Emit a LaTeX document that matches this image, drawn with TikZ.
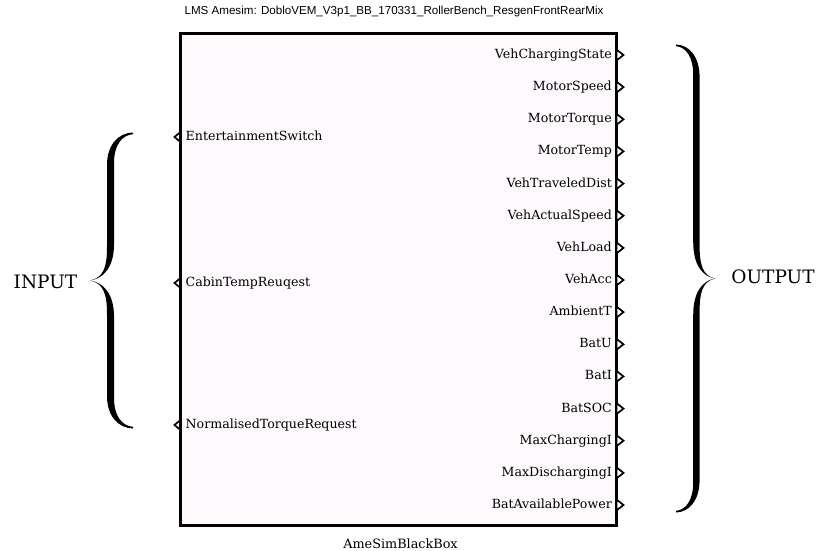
\documentclass[tikz,border=0pt]{standalone}
\usepackage{fontspec}
\setmainfont{DejaVu Serif}
\newfontfamily\lmsfont{Liberation Sans}
\usetikzlibrary{positioning}
\definecolor{bbfill}{HTML}{FDF9FC}
\definecolor{bbline}{HTML}{000000}
\tikzset{
  blk/.style={draw=bbline, line width=2.4pt, fill=bbfill, inner sep=0pt,
    minimum width=436pt, minimum height=492pt},
  outlbl/.style={anchor=east, inner sep=0pt, text height=9.5pt, text depth=2.6pt,
    font=\fontsize{12.6}{14}\selectfont},
  inlbl/.style={anchor=west, inner sep=0pt, text height=9.5pt, text depth=2.6pt,
    font=\fontsize{12.6}{14}\selectfont},
  oport/.style={draw=bbline, line width=1.7pt, fill=white, line join=miter},
  iport/.style={draw=bbline, line width=1.7pt, line join=miter},
  grplbl/.style={font=\fontsize{18.5}{20}\selectfont, inner sep=0pt},
}
% filled curly brace, tip at the origin, opening to the right
\newcommand{\grpbrace}[1]{%
  \fill (0,0) .. controls (14,3) and (17,14) .. (17,34) -- (17,{#1-32})
    .. controls (17,{#1-12}) and (28,{#1}) .. (43,{#1+0.5})
    -- (43,{#1-1.2}) .. controls (32,{#1-2}) and (24,{#1-12}) .. (24,{#1-30})
    -- (24,36) .. controls (24,14) and (14,2) .. (0,0) -- cycle;
  \fill (0,0) .. controls (14,-3) and (17,-14) .. (17,-34) -- (17,{-#1+32})
    .. controls (17,{-#1+12}) and (28,{-#1}) .. (43,{-#1-0.5})
    -- (43,{-#1+1.2}) .. controls (32,{-#1+2}) and (24,{-#1+12}) .. (24,{-#1+30})
    -- (24,-36) .. controls (24,-14) and (14,-2) .. (0,0) -- cycle;}

\begin{document}
\begin{tikzpicture}[x=1pt, y=-1pt]
  \useasboundingbox[fill=white] (0,0) rectangle (816,551);

  % the block
  \node[blk] (bb) at (398.5,279.5) {};
  \node[font=\lmsfont\fontsize{11.6}{13}\selectfont] (bbtitle) at (394,12)
    {LMS Amesim: DobloVEM\_V3p1\_BB\_170331\_RollerBench\_ResgenFrontRearMix};
  \node[font=\fontsize{12.8}{14}\selectfont, inner sep=1pt] (bbname) at (400.5,543.5) {AmeSimBlackBox};

  % inputs
  \coordinate (i1) at (180.5,137);
  \coordinate (i2) at (180.5,283);
  \coordinate (i3) at (180.5,425);
  \draw[iport] (i1) ++(0,-5) -- ++(-6,5) -- ++(6,5);
  \draw[iport] (i2) ++(0,-5) -- ++(-6,5) -- ++(6,5);
  \draw[iport] (i3) ++(0,-5) -- ++(-6,5) -- ++(6,5);
  \node[inlbl, right=5pt of i1] (entsw) {EntertainmentSwitch};
  \node[inlbl, right=5pt of i2] (cabtr) {CabinTempReuqest};
  \node[inlbl, right=5pt of i3] (normtr) {NormalisedTorqueRequest};

  % outputs
  \foreach \y [count=\i] in {55,87.1,119.3,151.4,183.6,215.7,247.9,280,
      312.1,344.3,376.4,408.6,440.7,472.9,505}{
    \coordinate (o\i) at (616.5,\y);
    \draw[oport] (o\i) ++(0,-5.5) -- ++(7,5.5) -- ++(-7,5.5) -- cycle;
  }
  \node[outlbl, left=4.5pt of o1] (vchg) {VehChargingState};
  \node[outlbl, left=4.5pt of o2] (mspd) {MotorSpeed};
  \node[outlbl, left=4.5pt of o3] (mtrq) {MotorTorque};
  \node[outlbl, left=4.5pt of o4] (mtmp) {MotorTemp};
  \node[outlbl, left=4.5pt of o5] (vdist) {VehTraveledDist};
  \node[outlbl, left=4.5pt of o6] (vspd) {VehActualSpeed};
  \node[outlbl, left=4.5pt of o7] (vload) {VehLoad};
  \node[outlbl, left=4.5pt of o8] (vacc) {VehAcc};
  \node[outlbl, left=4.5pt of o9] (ambt) {AmbientT};
  \node[outlbl, left=4.5pt of o10] (batu) {BatU};
  \node[outlbl, left=4.5pt of o11] (bati) {BatI};
  \node[outlbl, left=4.5pt of o12] (batsoc) {BatSOC};
  \node[outlbl, left=4.5pt of o13] (maxci) {MaxChargingI};
  \node[outlbl, left=4.5pt of o14] (maxdi) {MaxDischargingI};
  \node[outlbl, left=4.5pt of o15] (batpow) {BatAvailablePower};

  % groups
  \begin{scope}[shift={(90,280.5)}]
    \grpbrace{147.5}
  \end{scope}
  \begin{scope}[shift={(715,278.5)}, xscale=-0.907]
    \grpbrace{233.5}
  \end{scope}
  \node[grplbl] (inlabel) at (45.5,282) {INPUT};
  \node[grplbl] (outlabel) at (773,277) {OUTPUT};
\end{tikzpicture}
\end{document}
